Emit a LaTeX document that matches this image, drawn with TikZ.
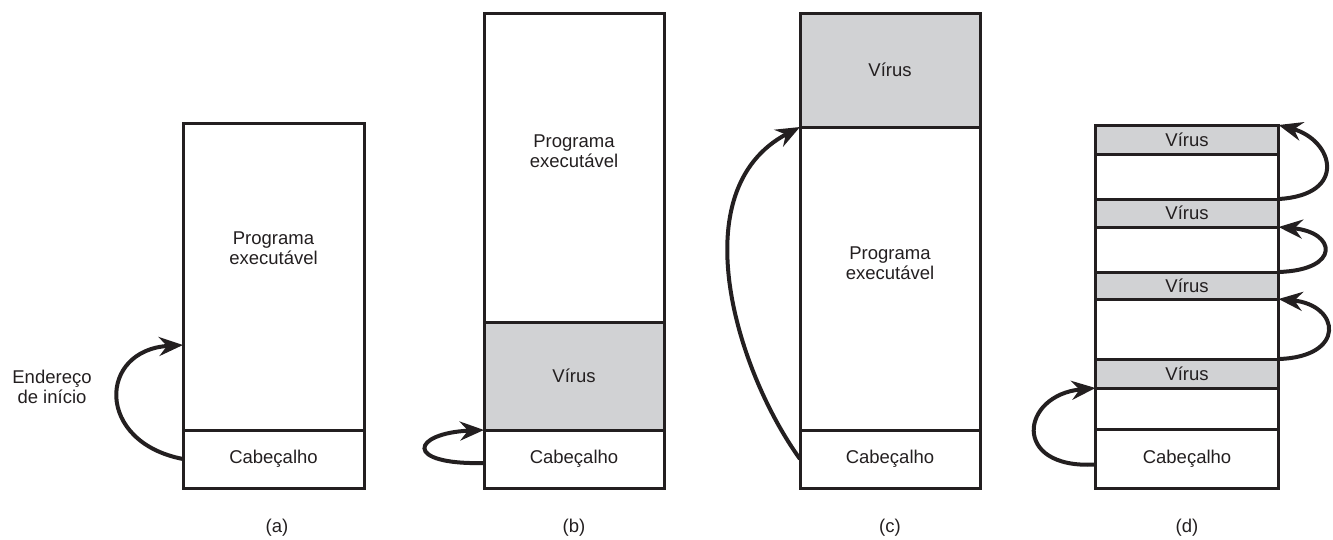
\documentclass[tikz,border=0pt]{standalone}
\usepackage{fontspec}
\setmainfont{Liberation Sans}
\usepackage{tikz}
\usepackage{xcolor}
\usetikzlibrary{arrows.meta}
\definecolor{virusgray}{RGB}{209,210,212}
\definecolor{inkblack}{RGB}{35,31,32}
\tikzset{
    fig_font/.style={font=\fontsize{18.5}{20.5}\selectfont},
    seg_box/.style={rectangle, draw=inkblack, line width=3pt, inner sep=0pt, outer sep=0pt, fig_font, text=inkblack},
    virus_box/.style={seg_box, fill=virusgray},
    prog_text/.style={fig_font, align=center, text=inkblack, inner sep=0pt},
    edge_arrow/.style={-{Stealth[length=24pt, width=19pt, inset=8pt]}, line width=4pt, draw=inkblack}
}

\begin{document}
\begin{tikzpicture}[x=1pt, y=-1pt]
\useasboundingbox (0,0) rectangle (1333,539);

% (a)
\node[seg_box, minimum width=181pt, minimum height=307pt] (progA) at (273.5, 276.5) {};
\node[seg_box, minimum width=181pt, minimum height=58pt]  (hdrA)  at (273.5, 459) {Cabeçalho};
\node[prog_text] (txtA)   at (273.5, 248) {Programa\\executável};
\node[prog_text] (startA) at (52, 387) {Endereço\\de início};
\node[prog_text] (capA)   at (277, 528) {(a)};

% (b)
\node[seg_box,   minimum width=180pt, minimum height=309pt] (progB) at (574, 167.5) {};
\node[virus_box, minimum width=180pt, minimum height=108pt] (virB)  at (574, 376) {Vírus};
\node[seg_box,   minimum width=180pt, minimum height=58pt]  (hdrB)  at (574, 459) {Cabeçalho};
\node[prog_text] (txtB) at (574, 151) {Programa\\executável};
\node[prog_text] (capB) at (574, 528) {(b)};

% (c)
\node[virus_box, minimum width=180pt, minimum height=114pt] (virC)  at (890, 70) {Vírus};
\node[seg_box,   minimum width=180pt, minimum height=303pt] (progC) at (890, 278.5) {};
\node[seg_box,   minimum width=180pt, minimum height=58pt]  (hdrC)  at (890, 459) {Cabeçalho};
\node[prog_text] (txtC) at (890, 263) {Programa\\executável};
\node[prog_text] (capC) at (890, 528) {(c)};

% (d)
\node[virus_box, minimum width=183pt, minimum height=29pt] (v1)   at (1187, 139.5) {Vírus};
\node[seg_box,   minimum width=183pt, minimum height=45pt] (e1)   at (1187, 176.5) {};
\node[virus_box, minimum width=183pt, minimum height=28pt] (v2)   at (1187, 213) {Vírus};
\node[seg_box,   minimum width=183pt, minimum height=45pt] (e2)   at (1187, 249.5) {};
\node[virus_box, minimum width=183pt, minimum height=27pt] (v3)   at (1187, 285.5) {Vírus};
\node[seg_box,   minimum width=183pt, minimum height=60pt] (e3)   at (1187, 329) {};
\node[virus_box, minimum width=183pt, minimum height=29pt] (v4)   at (1187, 373.5) {Vírus};
\node[seg_box,   minimum width=183pt, minimum height=41pt] (e4)   at (1187, 408.5) {};
\node[seg_box,   minimum width=183pt, minimum height=59pt] (hdrD) at (1187, 458.5) {Cabeçalho};
\node[prog_text] (capD) at (1187, 528) {(d)};

\draw[edge_arrow] (hdrA.west) .. controls +(-88,-17) and +(-85,5) .. ([yshift=85pt]progA.south west);

\draw[edge_arrow] ([yshift=-4pt]hdrB.west) .. controls +(-82,2) and +(-72,3) .. (virB.south west);

\draw[edge_arrow] (hdrC.west) .. controls +(-63,-87) and +(-120,63) .. (progC.north west);

\draw[edge_arrow] ([yshift=-6pt]hdrD.west) .. controls +(-85,5) and +(-75,7) .. (e4.north west);
\draw[edge_arrow] (v2.north east) .. controls +(70,-4) and +(55,15) .. (v1.north east);
\draw[edge_arrow] (v3.north east) .. controls +(63,-2) and +(58,5) .. (v2.south east);
\draw[edge_arrow] (v4.north east) .. controls +(68,-2) and +(62,6) .. (v3.south east);

\end{tikzpicture}
\end{document}
